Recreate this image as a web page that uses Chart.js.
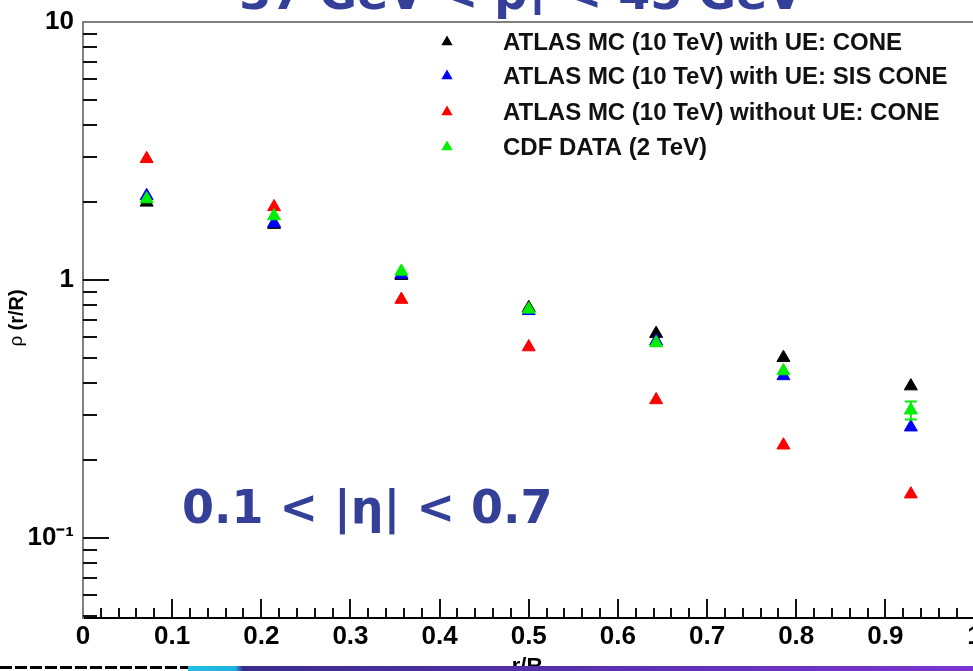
<!DOCTYPE html>
<html>
<head>
<meta charset="utf-8">
<script src="https://cdn.jsdelivr.net/npm/chart.js@4.4.1/dist/chart.umd.min.js"></script>
<style>
html,body{margin:0;padding:0;background:#fff;overflow:hidden}
#wrap{width:973px;height:671px;position:relative;overflow:hidden}
</style>
</head>
<body>
<div id="wrap"><canvas id="c" width="983" height="671"></canvas></div>
<script>
// ---- data ----
const rOverR = [0.0714, 0.2143, 0.3571, 0.5, 0.6429, 0.7857, 0.9286];
const atlasConeUE   = [2.00, 1.64, 1.04, 0.78, 0.62, 0.50, 0.388];
const atlasSisConeUE = [2.12, 1.66, 1.05, 0.76, 0.58, 0.425, 0.269];
const atlasConeNoUE = [2.95, 1.92, 0.84, 0.55, 0.343, 0.229, 0.148];
const cdfData       = [2.06, 1.77, 1.08, 0.77, 0.57, 0.444, 0.313];
const cdfErr        = [0, 0, 0, 0, 0, 0, 0.025];
const seriesLabels = [
  'ATLAS MC (10 TeV) with UE: CONE',
  'ATLAS MC (10 TeV) with UE: SIS CONE',
  'ATLAS MC (10 TeV) without UE: CONE',
  'CDF DATA (2 TeV)'
];
const xTickValues = [0, 0.1, 0.2, 0.3, 0.4, 0.5, 0.6, 0.7, 0.8, 0.9, 1];
const yMajorTicks = [0.1, 1, 10];
const yTickLabels = ['10\u207B\u00B9', '1', '10'];
const titleParts = ['37 GeV < p', 'T', ' < 45 GeV'];
const etaText = '0.1 < |\u03B7| < 0.7';
const xTitle = 'r/R';
const yTitleParts = ['\u03C1 ', '(r/R)'];

const pts = arr => arr.map((v, i) => ({x: rOverR[i], y: v}));

function mkSet(label, vals, color, order) {
  return {
    label, data: pts(vals), backgroundColor: color, borderColor: color,
    borderWidth: 1, pointStyle: 'triangle', pointRadius: 7.5, pointHoverRadius: 7.5,
    showLine: false, order
  };
}

const rootStyle = {
  id: 'rootStyle',
  beforeDraw(chart) {
    const ctx = chart.ctx;
    ctx.save();
    ctx.fillStyle = '#fff';
    ctx.fillRect(0, 0, chart.width, chart.height);
    ctx.restore();
  },
  afterDatasetsDraw(chart) {
    const ctx = chart.ctx;
    const xs = chart.scales.x, ys = chart.scales.y;
    const ca = chart.chartArea;
    ctx.save();
    // CDF error bars
    const green = chart.data.datasets[3].borderColor;
    ctx.strokeStyle = green; ctx.lineWidth = 2;
    cdfData.forEach((v, i) => {
      const e = cdfErr[i];
      if (!e) return;
      const px = xs.getPixelForValue(rOverR[i]);
      const y1 = ys.getPixelForValue(v + e), y2 = ys.getPixelForValue(v - e);
      ctx.beginPath();
      ctx.moveTo(px, y1); ctx.lineTo(px, y2);
      ctx.moveTo(px - 6, y1); ctx.lineTo(px + 6, y1);
      ctx.moveTo(px - 6, y2); ctx.lineTo(px + 6, y2);
      ctx.stroke();
    });
    // top frame
    ctx.strokeStyle = '#808080'; ctx.lineWidth = 2;
    ctx.beginPath(); ctx.moveTo(ca.left, ca.top); ctx.lineTo(ca.right, ca.top); ctx.stroke();
    // inward ticks, y axis
    ctx.strokeStyle = '#111'; ctx.lineWidth = 2;
    const [ymin, ymax] = [ys.min, ys.max];
    for (let k = -2; k <= 0; k++) {
      for (let m = 1; m <= 9; m++) {
        const v = m * Math.pow(10, k);
        if (v < ymin || v >= ymax) continue;
        const y = Math.round(ys.getPixelForValue(v));
        const len = m === 1 ? 26 : 14;
        ctx.beginPath(); ctx.moveTo(ca.left, y); ctx.lineTo(ca.left + len, y); ctx.stroke();
      }
    }
    // inward ticks, x axis
    for (let i = 1; i < 50; i++) {
      const v = i * 0.02;
      const x = Math.round(xs.getPixelForValue(v));
      const len = i % 5 === 0 ? 19 : 10;
      ctx.beginPath(); ctx.moveTo(x, ca.bottom); ctx.lineTo(x, ca.bottom - len); ctx.stroke();
    }
    ctx.restore();
  },
  afterDraw(chart) {
    const ctx = chart.ctx;
    ctx.save();
    // legend
    const rows = [42, 76, 112, 147];
    ctx.font = 'bold 24px "Liberation Sans", Arial, sans-serif';
    ctx.textBaseline = 'middle';
    ctx.textAlign = 'left';
    chart.data.datasets.forEach((ds, i) => {
      const y = rows[i], x = 447, r = 6.5;
      ctx.fillStyle = ds.backgroundColor;
      ctx.beginPath();
      ctx.moveTo(x, y - r);
      ctx.lineTo(x + r * 0.866, y + r * 0.5);
      ctx.lineTo(x - r * 0.866, y + r * 0.5);
      ctx.closePath(); ctx.fill();
      ctx.fillStyle = '#111';
      ctx.fillText(ds.label, 503, y + 1);
    });
    // title (cut at the top)
    ctx.fillStyle = '#333f99';
    ctx.textBaseline = 'alphabetic';
    const big = 'bold 46px "DejaVu Sans", Verdana, sans-serif';
    const sub = 'bold 30px "DejaVu Sans", Verdana, sans-serif';
    ctx.font = big; const w0 = ctx.measureText(titleParts[0]).width;
    ctx.font = sub; const w1 = ctx.measureText(titleParts[1]).width;
    ctx.font = big; const w2 = ctx.measureText(titleParts[2]).width;
    let tx = 521 - (w0 + w1 + w2) / 2;
    ctx.font = big; ctx.fillText(titleParts[0], tx, 9); tx += w0;
    ctx.font = sub; ctx.fillText(titleParts[1], tx, 15); tx += w1;
    ctx.font = big; ctx.fillText(titleParts[2], tx, 9);
    // eta text
    ctx.fillStyle = '#343f98';
    ctx.font = big;
    ctx.fillText(etaText, 182, 523);
    // x title
    ctx.fillStyle = '#000';
    ctx.font = 'bold 22px "Liberation Sans", Arial, sans-serif';
    ctx.textAlign = 'center';
    ctx.fillText(xTitle, 527, 673);
    // y title (rotated)
    ctx.translate(17, 318);
    ctx.rotate(-Math.PI / 2);
    ctx.textAlign = 'left';
    ctx.textBaseline = 'middle';
    ctx.font = '19px "Liberation Sans", Arial, sans-serif';
    const a = ctx.measureText(yTitleParts[0]).width;
    ctx.font = 'bold 20px "Liberation Sans", Arial, sans-serif';
    const b = ctx.measureText(yTitleParts[1]).width;
    ctx.font = '19px "Liberation Sans", Arial, sans-serif';
    ctx.fillText(yTitleParts[0], -(a + b) / 2, 0);
    ctx.font = 'bold 20px "Liberation Sans", Arial, sans-serif';
    ctx.fillText(yTitleParts[1], -(a + b) / 2 + a, 0);
    ctx.setTransform(1, 0, 0, 1, 0, 0);
    // slide footer bar
    ctx.fillStyle = '#000';
    for (let x = 0; x < 188; x += 15) ctx.fillRect(x, 666, 12, 3);
    const g = ctx.createLinearGradient(188, 0, 973, 0);
    g.addColorStop(0, '#1fc0e6');
    g.addColorStop(0.06, '#1fb0e0');
    g.addColorStop(0.07, '#3a2c8e');
    g.addColorStop(1, '#7a35d2');
    ctx.fillStyle = g;
    ctx.fillRect(188, 666, 798, 5);
    ctx.restore();
  }
};

new Chart(document.getElementById('c'), {
  type: 'scatter',
  data: {
    datasets: [
      mkSet(seriesLabels[0], atlasConeUE, '#000000', 4),
      mkSet(seriesLabels[1], atlasSisConeUE, '#0000ff', 3),
      mkSet(seriesLabels[2], atlasConeNoUE, '#ff0000', 2),
      mkSet(seriesLabels[3], cdfData, '#00ee00', 1)
    ]
  },
  options: {
    responsive: false,
    animation: false,
    devicePixelRatio: 1,
    layout: {padding: {top: 22, right: 0, left: 0, bottom: 0}},
    plugins: {legend: {display: false}, tooltip: {enabled: false}},
    events: [],
    scales: {
      x: {
        type: 'linear', min: 0, max: 1,
        grid: {display: false, drawTicks: false},
        border: {display: true, color: '#000', width: 2},
        afterBuildTicks(s) { s.ticks = xTickValues.map(v => ({value: v})); },
        ticks: {
          autoSkip: false, maxRotation: 0, padding: 3, color: '#000',
          font: {family: '"Liberation Sans Narrow", "Liberation Sans", Arial', weight: 'bold', size: 26},
          callback: v => String(Number(v.toFixed(1)))
        },
        afterFit(s) { s.height = 53; s.paddingLeft = 0; s.paddingRight = 0; }
      },
      y: {
        type: 'logarithmic', min: 0.049, max: 10,
        grid: {display: false, drawTicks: false},
        border: {display: true, color: '#808080', width: 2},
        afterBuildTicks(s) { s.ticks = yMajorTicks.map(v => ({value: v})); },
        ticks: {
          autoSkip: false, padding: 9, color: '#000',
          font: {family: '"Liberation Sans", Arial', weight: 'bold', size: 26},
          callback: (v) => { const i = yMajorTicks.indexOf(v); return i >= 0 ? yTickLabels[i] : ''; }
        },
        afterFit(s) { s.width = 83; s.paddingTop = 0; s.paddingBottom = 0; }
      }
    }
  },
  plugins: [rootStyle]
});
</script>
</body>
</html>
